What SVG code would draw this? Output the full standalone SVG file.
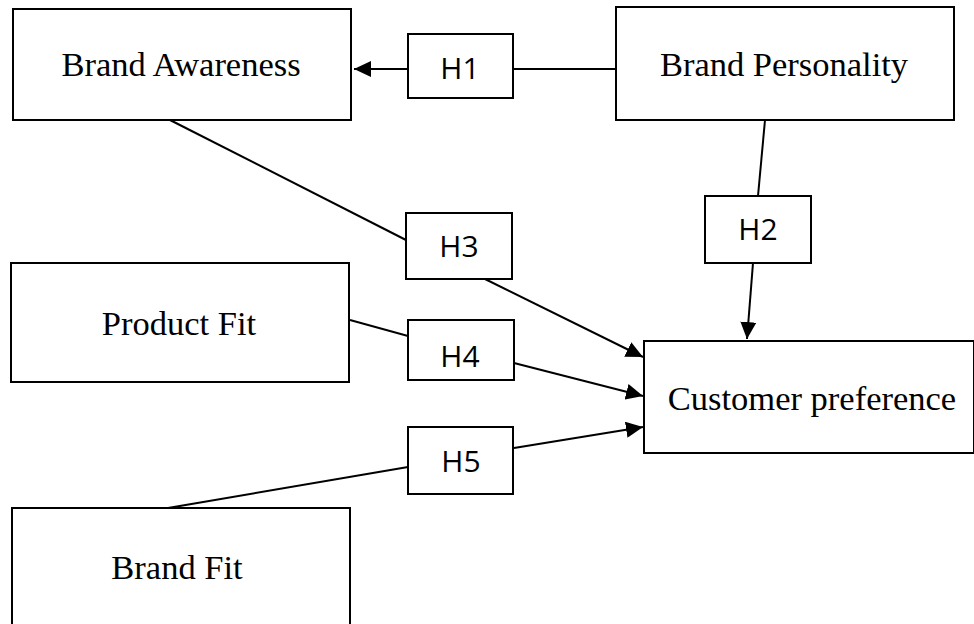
<svg xmlns="http://www.w3.org/2000/svg" width="974" height="624" viewBox="0 0 974 624">
  <style>
    .box { fill: #ffffff; stroke: #000000; stroke-width: 2; }
    .hbox { fill: #ffffff; stroke: #000000; stroke-width: 2; }
    .label { font-family: "Liberation Serif", "Times New Roman", serif; font-size: 34.5px; fill: #000000; text-anchor: middle; }
    .hlabel { font-family: "Open Sans", "DejaVu Sans", sans-serif; font-size: 30px; fill: #000000; text-anchor: middle; }
    .edge { fill: none; stroke: #000000; stroke-width: 2; }
  </style>
  <defs>
    <marker id="arrow" markerUnits="userSpaceOnUse" markerWidth="18" markerHeight="16" refX="17" refY="8" orient="auto">
      <path d="M0,0 L17,8 L0,16 z" fill="#000000"/>
    </marker>
  </defs>
  <rect width="974" height="624" fill="#ffffff"/>

  <!-- connectors -->
  <g id="connectors">
    <line class="edge" x1="408" y1="69" x2="354" y2="69" marker-end="url(#arrow)"/>
    <line class="edge" x1="616" y1="69" x2="513" y2="69"/>
    <line class="edge" x1="765" y1="120" x2="758" y2="196"/>
    <line class="edge" x1="753" y1="263" x2="747" y2="339" marker-end="url(#arrow)"/>
    <line class="edge" x1="170" y1="120" x2="406" y2="240"/>
    <line class="edge" x1="485" y1="279" x2="643" y2="357" marker-end="url(#arrow)"/>
    <line class="edge" x1="350" y1="320" x2="408" y2="336"/>
    <line class="edge" x1="514" y1="363" x2="643" y2="396" marker-end="url(#arrow)"/>
    <line class="edge" x1="168" y1="508" x2="408" y2="467"/>
    <line class="edge" x1="514" y1="448" x2="643" y2="427" marker-end="url(#arrow)"/>
  </g>

  <!-- constructs -->
  <g id="brand-awareness">
    <rect class="box" x="13" y="9" width="338" height="111"/>
    <text class="label" x="181" y="76">Brand Awareness</text>
  </g>
  <g id="brand-personality">
    <rect class="box" x="616" y="7" width="338" height="113"/>
    <text class="label" x="784" y="76">Brand Personality</text>
  </g>
  <g id="product-fit">
    <rect class="box" x="11" y="263" width="338" height="119"/>
    <text class="label" x="179" y="335">Product Fit</text>
  </g>
  <g id="brand-fit">
    <rect class="box" x="12" y="508" width="338" height="130"/>
    <text class="label" x="177" y="579">Brand Fit</text>
  </g>
  <g id="customer-preference">
    <rect class="box" x="644" y="341" width="330" height="112"/>
    <text class="label" x="812" y="410">Customer preference</text>
  </g>

  <!-- hypotheses -->
  <g id="h1">
    <rect class="hbox" x="408" y="34" width="105" height="64"/>
    <text class="hlabel" x="460" y="79">H1</text>
  </g>
  <g id="h2">
    <rect class="hbox" x="705" y="196" width="106" height="67"/>
    <text class="hlabel" x="758" y="240">H2</text>
  </g>
  <g id="h3">
    <rect class="hbox" x="406" y="213" width="106" height="66"/>
    <text class="hlabel" x="459" y="257">H3</text>
  </g>
  <g id="h4">
    <rect class="hbox" x="408" y="320" width="106" height="60"/>
    <text class="hlabel" x="460" y="367">H4</text>
  </g>
  <g id="h5">
    <rect class="hbox" x="408" y="427" width="105" height="67"/>
    <text class="hlabel" x="461" y="472">H5</text>
  </g>
</svg>
